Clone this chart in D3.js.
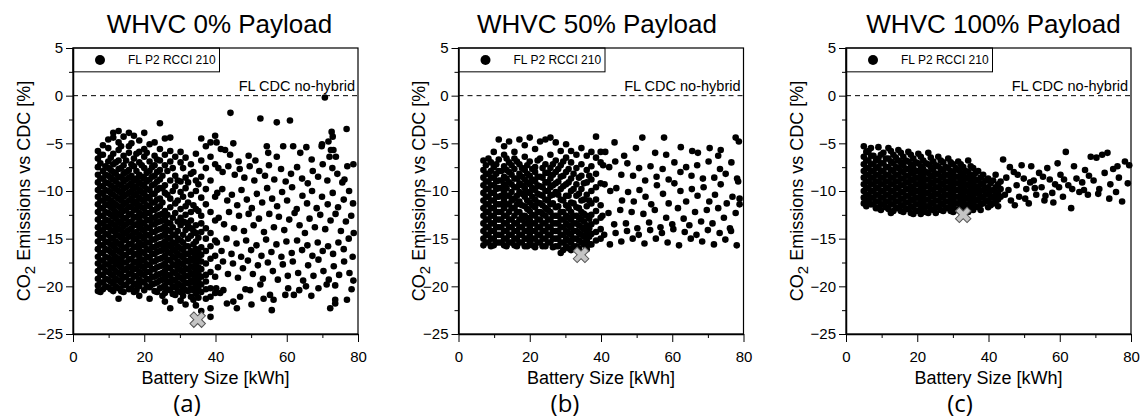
<!DOCTYPE html>
<html>
<head>
<meta charset="utf-8">
<script src="https://cdn.jsdelivr.net/npm/d3@7"></script>
<style>
  body { margin: 0; background: #fff; }
  text { font-family: "Liberation Sans", Arial, sans-serif; fill: #000; }
</style>
</head>
<body>
<div id="chart"></div>
<script>
// ticks shared by the three panels
var xTicks = [0, 20, 40, 60, 80];
var xMinor = [10, 30, 50, 70];
var yTicks = [5, 0, -5, -10, -15, -20, -25];
var yMinor = [2.5, -2.5, -7.5, -12.5, -17.5, -22.5];

var panelTitles = ["WHVC 0% Payload", "WHVC 50% Payload", "WHVC 100% Payload"];
var panelLetters = ["(a)", "(b)", "(c)"];
var legendLabel = "FL P2 RCCI 210";
var baselineLabel = "FL CDC no-hybrid";
var baselineValue = 0;

// grey cross = reference CDC point of each payload [kWh, %]
var cdcMarks = [[35, -23.5], [34.4, -16.7], [32.9, -12.5]];

// scatter points: [kWh, co2 %, co2 %, ...]
// dense part is stored per battery column, the loose part as single points
var payload0 = [
  [7.0,-5.8,-6.6,-7.5,-8.3,-9.1,-9.9,-10.6,-11.4,-12.2,-13.0,-13.8,-14.5,-15.3,-16.1,-16.9,-17.6,-18.4,-19.2,-19.9,-20.5],
  [7.7,-6.2,-7.1,-8.7,-9.5,-10.2,-11.0,-11.8,-12.6,-13.4,-14.2,-14.9,-15.7,-16.5,-17.3,-18.0,-18.8,-19.6,-20.6],
  [8.4,-5.2,-6.2,-7.9,-8.7,-9.5,-10.3,-11.0,-11.8,-12.6,-13.4,-14.1,-14.9,-15.7,-16.5,-17.3,-18.0,-18.8,-19.6,-20.3],
  [9.1,-7.4,-8.3,-9.1,-9.9,-10.7,-11.4,-12.2,-13.0,-13.7,-14.5,-15.3,-16.1,-16.9,-17.7,-18.4,-19.2,-20.0],
  [9.9,-4.6,-5.5,-6.9,-7.6,-8.4,-9.2,-10.0,-10.8,-11.5,-12.3,-13.1,-13.8,-14.6,-15.4,-16.2,-17.0,-17.7,-18.5,-19.3,-20.1],
  [10.6,-6.5,-7.8,-8.6,-9.4,-10.2,-11.0,-11.7,-12.5,-13.3,-14.1,-14.9,-15.6,-16.4,-17.2,-18.0,-18.7,-19.5,-20.3],
  [11.3,-3.9,-4.4,-6.1,-7.2,-8.0,-8.8,-9.6,-10.4,-11.2,-11.9,-12.7,-13.5,-14.2,-15.0,-15.8,-16.6,-17.4,-18.1,-18.9,-19.7,-20.5],
  [12.0,-7.0,-8.2,-9.0,-9.8,-10.6,-11.4,-12.2,-12.9,-13.7,-14.5,-15.3,-16.1,-16.9,-17.6,-18.4,-19.2,-20.0],
  [12.8,-3.7,-4.9,-5.7,-6.8,-7.7,-8.5,-9.3,-10.0,-10.8,-11.6,-12.4,-13.2,-14.0,-14.7,-15.5,-16.3,-17.1,-17.8,-18.6,-19.4,-20.2,-21.3],
  [13.5,-5.3,-7.6,-8.6,-9.4,-10.2,-11.0,-11.8,-12.6,-13.4,-14.1,-14.9,-15.7,-16.5,-17.3,-18.0,-18.8,-19.6,-20.5],
  [14.2,-4.3,-6.3,-7.3,-8.2,-9.0,-9.8,-10.6,-11.4,-12.1,-12.9,-13.7,-14.5,-15.2,-16.0,-16.8,-17.5,-18.3,-19.1,-19.9,-20.6],
  [14.9,-6.8,-8.0,-8.8,-9.6,-10.4,-11.2,-12.0,-12.8,-13.5,-14.3,-15.1,-15.9,-16.7,-17.5,-18.2,-19.0,-19.8],
  [15.7,-3.9,-5.3,-6.0,-7.8,-8.6,-9.4,-10.2,-11.0,-11.7,-12.5,-13.3,-14.1,-14.8,-15.6,-16.4,-17.2,-18.0,-18.7,-19.5,-20.3],
  [16.4,-5.0,-7.2,-8.4,-9.2,-10.0,-10.8,-11.6,-12.4,-13.2,-13.9,-14.7,-15.5,-16.3,-17.1,-17.9,-18.6,-19.4,-20.2],
  [17.1,-4.2,-6.6,-7.4,-8.9,-9.7,-10.5,-11.3,-12.0,-12.8,-13.6,-14.4,-15.1,-15.9,-16.7,-17.5,-18.2,-19.0,-19.8,-20.6],
  [17.8,-6.1,-7.9,-8.7,-9.5,-10.3,-11.1,-11.9,-12.7,-13.5,-14.3,-15.0,-15.8,-16.6,-17.4,-18.1,-18.9,-19.7,-20.4],
  [18.6,-4.7,-5.9,-7.0,-8.3,-9.1,-9.9,-10.7,-11.5,-12.3,-13.0,-13.8,-14.6,-15.4,-16.1,-16.9,-17.7,-18.5,-19.3,-20.0,-21.0],
  [19.3,-7.3,-8.5,-9.3,-10.1,-10.9,-11.7,-12.5,-13.3,-14.0,-14.8,-15.6,-16.4,-17.2,-17.9,-18.7,-19.5],
  [20.0,-3.9,-5.6,-6.4,-7.6,-8.7,-9.5,-10.3,-11.1,-11.9,-12.6,-13.4,-14.2,-15.0,-15.7,-16.5,-17.3,-18.1,-18.8,-19.6,-20.4],
  [20.7,-6.0,-8.1,-9.0,-9.8,-10.6,-11.5,-12.3,-13.0,-13.8,-14.6,-15.4,-16.1,-16.9,-17.7,-18.5,-19.2,-20.0],
  [21.5,-5.1,-6.9,-7.9,-8.8,-9.9,-10.8,-11.6,-12.3,-13.1,-13.9,-14.7,-15.4,-16.2,-17.0,-17.8,-18.5,-19.3,-20.1,-21.3],
  [22.2,-7.5,-8.5,-9.4,-10.3,-11.2,-12.0,-12.8,-13.5,-14.3,-15.1,-15.9,-16.6,-17.4,-18.2,-19.0,-19.8],
  [22.9,-4.9,-6.3,-7.3,-8.4,-9.3,-10.3,-11.2,-12.0,-12.8,-13.5,-14.3,-15.1,-15.9,-16.6,-17.4,-18.2,-19.0,-19.7,-20.5],
  [23.6,-6.7,-8.0,-9.0,-9.9,-10.9,-11.8,-12.6,-13.3,-14.1,-14.9,-15.7,-16.4,-17.2,-18.0,-18.8,-19.6,-20.6],
  [24.4,-2.9,-5.6,-6.8,-7.8,-8.8,-9.7,-10.8,-11.6,-12.5,-13.2,-14.0,-14.8,-15.6,-16.3,-17.1,-17.9,-18.7,-19.4,-20.2],
  [25.1,-8.4,-9.7,-11.2,-12.4,-13.1,-13.9,-14.7,-15.5,-16.2,-17.0,-17.8,-18.6,-19.3,-20.1,-21.0],
  [25.8,-4.5,-6.2,-7.3,-9.4,-10.2,-12.1,-12.9,-13.7,-14.5,-15.3,-16.0,-16.8,-17.6,-18.4,-19.1,-19.9,-20.7,-21.6],
  [26.5,-7.9,-10.4,-12.5,-13.3,-14.1,-14.9,-15.6,-16.4,-17.2,-18.0,-18.8,-19.5,-20.3],
  [27.3,-4.4,-5.8,-6.9,-8.9,-10.8,-11.7,-13.4,-14.2,-15.0,-15.8,-16.5,-17.3,-18.1,-18.9,-19.6,-20.4,-22.3],
  [28.0,-7.6,-10.0,-12.8,-13.8,-14.6,-15.4,-16.1,-16.9,-17.7,-18.5,-19.3,-20.0,-20.8],
  [28.7,-6.4,-8.4,-9.5,-11.3,-12.3,-14.6,-15.5,-16.3,-17.0,-17.8,-18.6,-19.4,-20.1,-20.9],
  [29.4,-8.9,-11.0,-13.2,-14.2,-15.0,-15.8,-16.6,-17.4,-18.1,-18.9,-19.7,-20.5],
  [30.2,-5.9,-7.0,-9.0,-10.1,-11.9,-12.8,-13.6,-15.2,-16.0,-16.8,-17.6,-18.3,-19.1,-19.9,-20.6,-21.5],
  [30.9,-7.6,-10.6,-13.2,-14.6,-15.4,-16.2,-17.0,-17.7,-18.5,-19.3,-20.1,-21.0],
  [31.6,-6.5,-8.6,-9.7,-11.6,-12.5,-13.3,-14.1,-15.8,-16.6,-17.3,-18.1,-18.9,-19.6,-20.4,-21.9],
  [32.3,-9.1,-11.2,-13.6,-15.0,-15.8,-16.6,-17.4,-18.2,-18.9,-19.7,-20.5],
  [33.1,-7.2,-8.2,-10.4,-12.2,-13.1,-13.9,-14.7,-16.3,-17.1,-17.9,-18.6,-19.4,-20.2,-21.1],
  [33.8,-8.0,-11.5,-14.2,-15.6,-16.5,-17.3,-18.0,-18.8,-19.6,-20.4,-21.4],
  [34.5,-6.1,-8.9,-10.0,-11.9,-13.6,-14.4,-15.3,-16.1,-16.9,-17.6,-18.4,-19.2,-20.0,-20.8,-22.0],
  [35.2,-9.3,-12.1,-14.9,-16.4,-17.2,-18.0,-18.7,-19.5,-20.3,-21.2],
  [36.0,-4.5,-6.8,-8.5,-10.7,-12.6,-13.4,-14.3,-15.9,-16.7,-17.4,-18.2,-19.0,-19.8,-20.6,-22.6],
  [37.3,-5.3,-7.6,-9.8,-11.4,-13.9,-15.0,-16.3,-17.6,-18.8,-19.5,-20.3,-21.3],
  [38.6,-4.9,-6.4,-8.9,-12.2,-14.4,-15.8,-17.1,-18.5,-20.2,-21.1,-22.3,-23.2],
  [39.9,-4.2,-7.2,-10.6,-13.1,-15.2,-16.8,-19.0,-20.7],
  [44.2,-1.8],[52.6,-2.4],[57.2,-2.8],[60.9,-2.6],[70.7,-0.2],[76.8,-3.5],[72.6,-3.8],[72.9,-4.3],[40.3,-4.9],
  [41.5,-5.6],[42.7,-5.7],[44.1,-6.2],[45.0,-5.0],[54.4,-5.3],[54.8,-6.0],[57.2,-6.4],[59.0,-5.3],[61.8,-5.3],
  [67.0,-6.7],[69.8,-5.3],[72.4,-5.7],[71.7,-4.8],[69.9,-5.1],[73.1,-5.7],[72.0,-6.4],[73.8,-6.4],[46.5,-6.9],
  [49.3,-6.3],[51.2,-6.8],[63.8,-6.0],[65.5,-5.4],
  [40.8,-7.6],[42.0,-8.0],[43.6,-7.4],[45.4,-8.3],[46.8,-7.7],[48.1,-8.6],[49.6,-7.4],[50.9,-8.9],[52.3,-7.9],
  [53.9,-8.4],[55.0,-7.3],[56.5,-8.8],[58.4,-7.7],[59.7,-9.0],[61.2,-8.2],[62.9,-7.5],[64.3,-8.7],[65.9,-9.2],
  [67.3,-7.9],[68.8,-8.5],[70.1,-7.2],[71.4,-8.9],[72.8,-7.6],[74.2,-8.2],[75.6,-9.1],[77.0,-7.4],[78.7,-7.2],[76.2,-8.8],
  [40.5,-10.2],[41.9,-9.8],[43.3,-11.0],[44.6,-10.4],[46.1,-11.5],[47.3,-9.9],[48.8,-10.9],[50.2,-11.8],[51.6,-10.3],
  [53.1,-11.2],[54.5,-9.7],[55.9,-10.8],[57.3,-11.6],[58.7,-10.1],[60.1,-11.0],[61.5,-9.6],[62.8,-11.9],[64.4,-10.5],
  [65.7,-11.3],[67.1,-10.0],[68.4,-11.8],[69.9,-10.6],[71.5,-11.4],[72.9,-10.2],[74.4,-11.7],[76.0,-10.9],[77.5,-10.0],[78.6,-11.3],
  [40.9,-12.8],[42.4,-13.5],[43.8,-12.2],[45.2,-13.9],[46.6,-12.6],[48.0,-14.2],[49.3,-12.4],[50.7,-13.6],[52.2,-12.9],
  [53.6,-14.3],[55.1,-12.4],[56.4,-13.8],[57.8,-12.7],[59.3,-14.1],[60.7,-13.0],[62.2,-12.3],[63.6,-13.6],[65.1,-14.4],
  [66.4,-12.9],[67.9,-13.8],[69.4,-12.5],[70.8,-14.0],[72.3,-13.1],[73.7,-12.4],[75.2,-14.2],[76.6,-13.2],[78.1,-12.6],[78.8,-14.4],
  [40.4,-15.4],[41.7,-16.3],[43.1,-15.0],[44.5,-16.6],[45.9,-15.5],[47.2,-16.9],[48.6,-15.2],[50.0,-16.2],[51.5,-15.7],
  [52.9,-16.8],[54.2,-15.1],[55.7,-16.4],[57.1,-15.6],[58.5,-16.9],[59.9,-15.3],[61.4,-16.5],[62.9,-15.2],[64.3,-16.2],
  [65.8,-15.7],[67.2,-16.8],[68.7,-15.4],[70.1,-16.3],[71.6,-15.8],[73.0,-16.6],[74.5,-15.4],[76.0,-16.1],[77.4,-15.0],[78.5,-16.9],
  [40.7,-18.0],[42.1,-17.4],[43.5,-18.7],[44.9,-17.6],[46.3,-19.1],[47.7,-18.1],[49.1,-17.3],[50.5,-18.7],[51.9,-17.8],
  [53.3,-19.2],[54.7,-17.5],[56.1,-18.4],[57.5,-19.3],[58.9,-17.7],[60.3,-18.9],[61.7,-17.4],[63.2,-18.6],[64.6,-19.4],
  [66.0,-17.8],[67.5,-18.9],[68.9,-17.2],[70.3,-18.4],[71.8,-19.3],[73.2,-17.9],[74.7,-18.8],[76.1,-17.4],[77.6,-18.6],[78.7,-19.4],
  [40.2,-20.2],[41.3,-20.7],[42.2,-20.4],[43.2,-21.8],[45.0,-21.6],[46.0,-22.3],[46.9,-21.1],[48.4,-20.3],[49.7,-20.4],
  [50.1,-21.9],[52.6,-19.8],[53.5,-21.3],[55.3,-20.9],[55.8,-22.5],[56.3,-21.4],[59.6,-20.9],[62.0,-20.9],[60.4,-20.2],
  [63.5,-20.4],[65.4,-20.0],[66.9,-21.0],[68.9,-20.2],[71.2,-19.8],[72.2,-22.3],[73.6,-21.4],[73.6,-21.8],[73.6,-19.9],
  [76.9,-21.4],[78.2,-20.3]
];

var payload50 = [
  [7.0,-6.8,-7.8,-8.6,-9.4,-10.2,-11.0,-11.8,-12.6,-13.4,-14.2,-15.0,-15.7],
  [7.7,-7.3,-8.2,-9.0,-9.8,-10.6,-11.4,-12.2,-13.0,-13.8,-14.6,-15.4],
  [8.4,-6.6,-8.2,-9.0,-9.8,-10.6,-11.4,-12.2,-13.0,-13.8,-14.6,-15.4],
  [9.1,-7.0,-7.9,-8.6,-9.4,-10.2,-11.0,-11.8,-12.6,-13.4,-14.2,-15.0,-15.8],
  [9.9,-5.9,-7.5,-8.6,-9.4,-10.2,-11.0,-11.8,-12.6,-13.4,-14.2,-15.0,-15.7],
  [10.6,-7.2,-8.2,-9.0,-9.8,-10.6,-11.4,-12.2,-13.0,-13.8,-14.6,-15.4],
  [11.3,-4.6,-6.7,-7.9,-8.9,-9.7,-10.6,-11.4,-12.2,-13.0,-13.8,-14.6,-15.4],
  [12.0,-7.9,-8.9,-9.7,-10.5,-11.4,-12.2,-13.0,-13.8,-14.6,-15.4],
  [12.8,-5.3,-6.2,-7.4,-8.5,-9.3,-10.1,-11.0,-11.8,-12.6,-13.4,-14.2,-15.0,-15.7],
  [13.5,-6.6,-7.8,-8.7,-9.7,-10.5,-11.4,-12.6,-13.4,-14.2,-15.0,-15.8],
  [14.2,-4.8,-7.0,-8.0,-9.1,-10.5,-11.4,-12.2,-13.0,-13.8,-14.6,-15.4],
  [14.9,-7.3,-8.3,-9.3,-10.1,-11.0,-11.8,-13.0,-13.8,-14.6,-15.4],
  [15.7,-5.9,-6.6,-7.7,-8.7,-9.6,-10.8,-11.8,-12.6,-13.4,-14.2,-15.0,-15.7],
  [16.4,-6.9,-8.7,-9.6,-10.5,-11.4,-12.2,-13.4,-14.2,-15.0,-15.8],
  [17.1,-4.6,-7.2,-8.2,-9.2,-10.1,-11.1,-12.2,-13.0,-13.8,-14.6,-15.4],
  [17.8,-7.6,-8.5,-9.4,-10.3,-11.5,-12.6,-13.0,-13.8,-14.6,-15.4],
  [18.6,-5.2,-6.4,-7.8,-8.8,-9.7,-10.6,-11.6,-12.6,-13.4,-14.2,-15.0,-15.8],
  [19.3,-7.3,-8.2,-9.1,-10.1,-11.0,-11.9,-12.8,-13.4,-14.2,-15.0,-15.8],
  [20.0,-4.4,-6.9,-8.4,-9.3,-10.2,-11.2,-12.1,-13.0,-13.8,-14.6,-15.4],
  [20.7,-7.7,-8.8,-9.7,-10.6,-11.5,-12.5,-13.4,-14.2,-15.0,-15.7],
  [21.5,-5.6,-7.5,-8.0,-9.0,-9.9,-10.9,-11.7,-12.6,-13.4,-14.2,-15.0,-15.9],
  [22.2,-6.8,-8.5,-9.4,-10.3,-11.2,-12.2,-13.0,-13.8,-14.6,-15.4],
  [22.9,-4.8,-6.6,-8.5,-9.5,-10.4,-11.3,-12.2,-13.0,-13.8,-14.6,-15.4],
  [23.6,-7.6,-8.6,-9.6,-10.5,-11.5,-12.4,-13.4,-14.2,-15.0,-15.8],
  [24.4,-4.6,-7.2,-8.1,-9.1,-10.0,-10.9,-11.8,-12.6,-13.4,-14.2,-15.0,-15.8],
  [25.1,-8.1,-9.1,-10.0,-11.0,-12.0,-13.0,-13.8,-14.6,-15.4],
  [25.8,-4.4,-6.2,-7.6,-8.7,-9.6,-10.5,-11.4,-12.2,-13.0,-13.8,-14.6,-15.4],
  [26.5,-7.2,-8.3,-9.4,-10.4,-11.3,-12.6,-13.4,-14.2,-15.0,-15.9],
  [27.3,-4.9,-6.8,-8.0,-9.2,-10.1,-11.7,-12.6,-13.4,-14.2,-15.0,-15.8],
  [28.0,-7.7,-9.0,-10.4,-11.6,-12.6,-13.4,-14.2,-15.0,-15.8],
  [28.7,-5.8,-7.3,-8.5,-9.8,-10.9,-12.2,-13.0,-13.8,-14.6,-15.4,-16.5],
  [29.4,-6.9,-8.4,-9.5,-11.0,-12.2,-13.0,-13.8,-14.6,-15.4,-16.2],
  [30.2,-5.1,-6.5,-8.0,-9.3,-10.5,-11.5,-12.6,-13.4,-14.2,-15.0,-15.8],
  [30.9,-7.7,-9.1,-10.5,-11.8,-12.8,-13.6,-14.4,-15.2,-16.0],
  [31.6,-5.8,-7.0,-8.7,-10.0,-11.2,-12.2,-13.0,-13.8,-14.6,-15.4,-16.2],
  [32.3,-8.2,-9.8,-11.3,-12.6,-13.4,-14.2,-15.0,-15.8],
  [33.1,-6.2,-7.6,-9.3,-10.5,-11.7,-12.6,-13.4,-14.2,-15.0,-15.8],
  [33.8,-8.6,-10.3,-11.8,-12.8,-13.6,-14.4,-15.2,-16.0],
  [34.5,-5.5,-7.2,-8.4,-9.8,-11.0,-12.2,-13.0,-13.8,-14.6,-15.4],
  [35.2,-9.2,-10.9,-12.4,-13.2,-14.0,-14.8,-15.6],
  [36.0,-6.3,-7.8,-9.1,-10.4,-11.6,-12.6,-13.6,-14.4,-15.2,-16.1],
  [36.7,-8.4,-11.0,-12.9,-13.9,-14.8,-15.6],
  [37.3,-5.9,-7.4,-8.8,-10.0,-11.3,-12.5,-13.5,-14.5,-15.6],
  [38.6,-4.3,-6.5,-8.2,-9.6,-10.9,-12.1,-13.2,-14.3,-15.2],
  [39.9,-5.9,-7.0,-9.2,-11.5,-12.8,-14.0,-15.0],
  [41.2,-5.9],[43.8,-4.9],[49.8,-5.5],[51.6,-4.4],[57.7,-4.4],[58.3,-6.2],[55.2,-6.0],[62.4,-5.4],[65.6,-5.8],
  [67.2,-6.0],[70.5,-5.5],[72.9,-6.3],[73.6,-5.7],[77.8,-4.4],[78.7,-4.8],[46.5,-6.3],
  [40.6,-7.3],[42.3,-7.5],[44.0,-6.9],[45.7,-8.3],[47.4,-7.1],[49.0,-8.4],[50.7,-7.6],[52.4,-8.9],[53.9,-7.4],
  [55.6,-8.5],[57.3,-7.7],[59.0,-8.8],[60.6,-7.0],[62.3,-8.0],[63.9,-7.5],[65.4,-8.4],[67.0,-7.3],[68.6,-8.7],
  [70.2,-6.9],[71.8,-8.6],[73.4,-7.7],[75.0,-8.2],[76.6,-7.0],[78.2,-8.7],
  [41.0,-9.3],[42.6,-10.0],[44.3,-9.7],[45.9,-11.0],[47.6,-10.1],[49.2,-11.1],[50.8,-9.9],[52.5,-10.6],[54.1,-11.4],
  [55.7,-9.4],[57.4,-10.3],[59.0,-11.3],[60.6,-9.2],[62.3,-10.0],[63.9,-11.1],[65.5,-9.8],[67.1,-10.5],[68.8,-9.6],
  [70.4,-11.1],[72.0,-10.4],[73.6,-9.3],[75.3,-11.3],[76.9,-10.6],[78.5,-9.0],[78.9,-10.8],
  [40.4,-12.6],[42.1,-12.3],[43.7,-13.5],[45.4,-12.0],[47.0,-13.4],[48.6,-12.2],[50.2,-13.9],[51.9,-12.4],[53.5,-13.3],
  [55.1,-12.0],[56.7,-13.8],[58.3,-12.8],[60.0,-13.5],[61.6,-11.8],[63.2,-12.9],[64.8,-13.6],[66.4,-12.2],[68.1,-13.2],
  [69.7,-12.0],[71.3,-13.4],[72.9,-11.8],[74.5,-12.8],[76.2,-13.9],[77.8,-12.3],[78.9,-11.4],
  [40.9,-14.6],[42.5,-15.6],[44.1,-14.4],[45.7,-15.3],[47.3,-14.2],[48.9,-15.0],[50.6,-14.6],[52.2,-15.5],[53.8,-14.1],
  [55.4,-15.0],[57.1,-14.4],[58.7,-15.4],[60.3,-14.0],[61.9,-15.7],[63.5,-14.3],[65.2,-15.0],[66.8,-14.6],[68.4,-15.3],
  [70.0,-14.1],[71.7,-15.6],[73.3,-14.4],[74.9,-15.1],[76.5,-14.2],[78.1,-15.7]
];

var payload100 = [
  [5.0,-5.3,-6.4,-7.2,-7.9,-8.6,-9.3,-10.0,-10.7,-11.3],
  [5.7,-5.9,-6.8,-7.6,-8.3,-9.0,-9.7,-10.4,-11.0,-11.6],
  [6.3,-5.8,-6.8,-7.6,-8.3,-9.0,-9.7,-10.4,-11.1],
  [7.0,-5.5,-6.3,-7.2,-7.9,-8.6,-9.3,-10.0,-10.7,-11.4],
  [7.7,-6.3,-7.2,-7.9,-8.6,-9.3,-10.0,-10.7,-11.4],
  [8.4,-6.8,-7.6,-8.3,-9.0,-9.7,-10.4,-11.1,-11.8],
  [9.1,-5.4,-6.6,-7.5,-8.3,-9.0,-9.7,-10.4,-11.1,-11.8],
  [9.8,-6.2,-7.1,-7.9,-8.6,-9.3,-10.0,-10.7,-11.4,-12.0],
  [10.5,-6.0,-7.1,-7.9,-8.6,-9.3,-10.0,-10.7,-11.4],
  [11.2,-6.6,-7.5,-8.3,-9.0,-9.7,-10.4,-11.1,-11.7],
  [11.9,-5.5,-6.6,-7.5,-8.3,-9.0,-9.7,-10.4,-11.1,-11.9],
  [12.6,-5.8,-6.9,-7.8,-8.6,-9.3,-10.0,-10.7,-11.4,-12.3],
  [13.3,-6.2,-7.1,-7.9,-8.6,-9.3,-10.0,-10.7,-11.4,-12.1],
  [14.0,-6.5,-7.5,-8.3,-9.0,-9.7,-10.4,-11.1,-11.8],
  [14.7,-5.7,-6.8,-7.6,-8.3,-9.0,-9.7,-10.4,-11.1,-11.8],
  [15.4,-6.0,-7.0,-7.9,-8.7,-9.4,-10.1,-10.8,-11.5,-12.1],
  [16.1,-6.4,-7.3,-8.0,-8.7,-9.4,-10.1,-10.8,-11.5,-12.2],
  [16.8,-6.8,-7.7,-8.4,-9.1,-9.8,-10.5,-11.2,-11.9],
  [17.5,-5.9,-6.9,-7.7,-8.4,-9.1,-9.8,-10.5,-11.2,-11.9],
  [18.2,-6.2,-7.2,-8.0,-8.8,-9.5,-10.2,-10.9,-11.6,-12.3],
  [18.9,-6.6,-7.5,-8.2,-8.9,-9.6,-10.3,-11.0,-11.7,-12.4],
  [19.6,-7.0,-7.9,-8.6,-9.3,-10.0,-10.7,-11.4,-12.1],
  [20.3,-6.1,-7.1,-7.9,-8.6,-9.3,-10.0,-10.7,-11.4,-12.1],
  [21.0,-6.4,-7.4,-8.2,-8.9,-9.6,-10.3,-11.0,-11.7,-12.4],
  [21.7,-6.8,-7.7,-8.4,-9.1,-9.8,-10.5,-11.2,-11.9],
  [22.4,-7.1,-8.0,-8.8,-9.5,-10.2,-10.9,-11.6,-12.2],
  [23.1,-6.0,-7.2,-8.1,-8.8,-9.5,-10.2,-10.9,-11.6,-12.3],
  [23.8,-6.5,-7.5,-8.4,-9.1,-9.8,-10.5,-11.2,-11.9],
  [24.5,-6.9,-7.8,-8.5,-9.2,-9.9,-10.6,-11.3,-12.0],
  [25.2,-7.3,-8.2,-8.9,-9.6,-10.3,-11.0,-11.7,-12.3],
  [25.9,-6.4,-7.4,-8.2,-8.9,-9.6,-10.3,-11.0,-11.7],
  [26.6,-6.8,-7.7,-8.5,-9.2,-9.9,-10.6,-11.3,-12.0],
  [27.3,-7.0,-7.9,-8.6,-9.3,-10.0,-10.7,-11.4,-12.1],
  [28.0,-7.5,-8.3,-9.0,-9.7,-10.4,-11.1,-11.8],
  [28.7,-6.6,-7.6,-8.3,-9.0,-9.7,-10.4,-11.1,-11.8],
  [29.4,-7.0,-7.9,-8.6,-9.3,-10.0,-10.7,-11.4,-12.1],
  [30.1,-7.2,-8.1,-8.8,-9.5,-10.2,-10.9,-11.6,-12.2],
  [30.8,-7.6,-8.5,-9.2,-9.9,-10.6,-11.3,-12.0],
  [31.5,-6.9,-7.8,-8.5,-9.2,-9.9,-10.6,-11.3,-12.0],
  [32.2,-7.2,-8.1,-8.8,-9.5,-10.2,-10.9,-11.6],
  [32.9,-7.5,-8.3,-9.0,-9.7,-10.4,-11.1,-11.8],
  [33.6,-7.9,-8.6,-9.3,-10.0,-10.7,-11.4,-12.0],
  [34.3,-6.8,-8.0,-8.7,-9.4,-10.1,-10.8,-11.5,-12.2],
  [35.0,-7.4,-8.3,-9.0,-9.7,-10.4,-11.1,-11.8],
  [35.7,-7.6,-8.5,-9.2,-9.9,-10.6,-11.3,-12.0],
  [36.4,-8.1,-8.8,-9.5,-10.2,-10.9,-11.6],
  [37.1,-7.9,-8.9,-9.6,-10.3,-11.0,-11.7],
  [37.8,-8.6,-9.3,-10.0,-10.7,-11.4,-12.0],
  [38.5,-8.3,-9.2,-9.9,-10.6,-11.3],
  [39.2,-8.9,-9.7,-10.4,-11.1],
  [39.9,-8.7,-9.6,-10.3,-11.0,-11.7],
  [40.6,-9.2,-10.0,-10.7,-11.5],
  [41.3,-8.9,-9.9,-10.6,-11.3],
  [42.0,-8.3,-9.6,-10.4,-11.1],
  [42.7,-9.3,-10.2,-10.9,-11.6],
  [43.4,-9.0,-9.8,-10.6],
  [44.1,-6.7],[45.0,-8.6],[45.6,-9.9],[46.3,-11.0],[47.1,-8.0],[47.9,-9.4],[48.6,-10.6],[49.3,-7.3],[49.9,-8.7],
  [50.6,-9.8],[51.3,-11.3],[52.0,-7.4],[52.7,-8.9],[53.4,-10.4],[54.2,-8.1],[54.9,-9.6],[55.7,-11.0],[56.5,-7.6],
  [57.2,-8.8],[57.9,-10.2],[58.7,-9.3],[59.4,-7.1],[60.2,-8.3],[60.9,-10.6],[61.7,-5.9],[62.4,-9.4],[63.2,-11.8],
  [64.0,-7.4],[64.7,-8.7],[65.5,-10.1],[66.3,-9.1],[67.1,-7.8],[67.9,-10.4],[68.7,-6.4],[69.5,-8.9],[70.3,-6.5],
  [71.1,-9.8],[71.9,-6.2],[72.6,-8.1],[73.4,-6.0],[74.2,-9.3],[75.0,-7.7],[75.8,-10.1],[76.6,-8.6],[77.5,-11.1],
  [78.3,-6.9],[79.1,-9.2],[79.5,-7.3],
  [44.6,-10.4],[46.0,-7.5],[47.4,-11.5],[48.2,-8.3],[50.3,-10.8],[51.7,-9.1],[53.0,-9.7],[55.3,-8.5],[56.0,-10.5],
  [58.2,-11.2],[59.8,-9.6],[61.2,-8.8],[63.5,-9.8],[66.8,-9.9],[68.2,-8.4],[70.8,-10.3],[73.9,-10.8],[76.2,-7.4]
];

// panel placement on the page
var svgWidth = 1144, svgHeight = 419;
var plotWidth = 285, plotTop = 48, plotBottom = 334;
var panels = [
  { left: 73,    data: payload0,   titleShift: 4,  letterX: 187, yTitleOff: 50 },
  { left: 458.5, data: payload50,  titleShift: -4, letterX: 565, yTitleOff: 40 },
  { left: 846,   data: payload100, titleShift: 5,  letterX: 960, yTitleOff: 50 }
];

var svg = d3.select("#chart").append("svg")
    .attr("width", svgWidth).attr("height", svgHeight);

function drawPanel(p, i) {
    var g = svg.append("g").attr("transform", "translate(" + p.left + ",0)");

    var x = d3.scaleLinear().domain([0, 80]).range([0, plotWidth]);
    var y = d3.scaleLinear().domain([-25, 5]).range([plotBottom, plotTop]);

    // flatten the battery columns into single points
    var points = p.data.flatMap(function(c) {
        return c.slice(1).map(function(v) { return [c[0], v]; });
    });

    // scatter dots
    g.selectAll("circle.pt").data(points).enter().append("circle")
        .attr("class", "pt")
        .attr("cx", function(d) { return x(d[0]); })
        .attr("cy", function(d) { return y(d[1]); })
        .attr("r", 3.3)
        .attr("fill", "#000");

    // dashed reference line of the conventional engine
    g.append("line")
        .attr("x1", x(0)).attr("x2", x(80))
        .attr("y1", y(baselineValue)).attr("y2", y(baselineValue))
        .attr("stroke", "#000").attr("stroke-width", 1)
        .attr("stroke-dasharray", "5,4");
    g.append("text")
        .attr("x", x(80) - 3).attr("y", y(baselineValue) - 5)
        .attr("text-anchor", "end")
        .style("font-size", "14.5px")
        .text(baselineLabel);

    // grey cross for the CDC point
    g.append("path")
        .attr("d", d3.symbol().type(d3.symbolCross).size(150)())
        .attr("transform", "translate(" + x(cdcMarks[i][0]) + "," + y(cdcMarks[i][1]) + ") rotate(45)")
        .attr("fill", "#c4c4c4").attr("stroke", "#555").attr("stroke-width", 1);

    // legend box in the top left corner
    g.append("rect")
        .attr("x", x(0)).attr("y", y(5))
        .attr("width", 146.5).attr("height", y(2.5) - y(5))
        .attr("fill", "#fff").attr("stroke", "#000").attr("stroke-width", 1);
    g.append("circle")
        .attr("cx", 27).attr("cy", (y(5) + y(2.5)) / 2)
        .attr("r", 5).attr("fill", "#000");
    g.append("text")
        .attr("x", 55).attr("y", (y(5) + y(2.5)) / 2 + 4.5)
        .style("font-size", "12px")
        .text(legendLabel);

    // plot frame
    g.append("rect")
        .attr("x", 0).attr("y", plotTop)
        .attr("width", plotWidth).attr("height", plotBottom - plotTop)
        .attr("fill", "none").attr("stroke", "#000").attr("stroke-width", 1.2);

    // x axis, major and minor ticks
    var xAxis = g.append("g").attr("transform", "translate(0," + plotBottom + ")")
        .call(d3.axisBottom(x).tickValues(xTicks).tickSize(8).tickPadding(9).tickSizeOuter(0));
    xAxis.select(".domain").attr("stroke-width", 1.5);
    xAxis.selectAll("text").attr("font-size", 15).attr("font-family", "Liberation Sans, Arial, sans-serif");
    g.append("g").attr("transform", "translate(0," + plotBottom + ")")
        .call(d3.axisBottom(x).tickValues(xMinor).tickSize(4).tickFormat("").tickSizeOuter(0))
        .select(".domain").remove();

    // y axis, major and minor ticks
    var yAxis = g.append("g")
        .call(d3.axisLeft(y).tickValues(yTicks).tickSize(7).tickPadding(3).tickSizeOuter(0));
    yAxis.select(".domain").attr("stroke-width", 1.5);
    yAxis.selectAll("text").attr("font-size", 15).attr("font-family", "Liberation Sans, Arial, sans-serif");
    g.append("g")
        .call(d3.axisLeft(y).tickValues(yMinor).tickSize(4).tickFormat("").tickSizeOuter(0))
        .select(".domain").remove();

    // panel title
    g.append("text")
        .attr("x", plotWidth / 2 + p.titleShift).attr("y", 33)
        .attr("text-anchor", "middle")
        .style("font-size", "26px")
        .text(panelTitles[i]);

    // x axis title
    g.append("text")
        .attr("x", plotWidth / 2).attr("y", 384)
        .attr("text-anchor", "middle")
        .style("font-size", "18px")
        .text("Battery Size [kWh]");

    // y axis title with subscript 2
    var yt = g.append("text")
        .attr("transform", "translate(" + (-p.yTitleOff + 6.5) + "," + ((plotTop + plotBottom) / 2) + ") rotate(-90)")
        .attr("text-anchor", "middle")
        .style("font-size", "18px");
    yt.append("tspan").text("CO");
    yt.append("tspan").attr("dy", 5).style("font-size", "15px").text("2");
    yt.append("tspan").attr("dy", -5).text(" Emissions vs CDC [%]");

    // panel letter below
    svg.append("text")
        .attr("x", p.letterX).attr("y", 412)
        .attr("text-anchor", "middle")
        .style("font-family", "'Open Sans', sans-serif")
        .style("font-size", "24px")
        .text(panelLetters[i]);
}

panels.forEach(drawPanel);
</script>
</body>
</html>
